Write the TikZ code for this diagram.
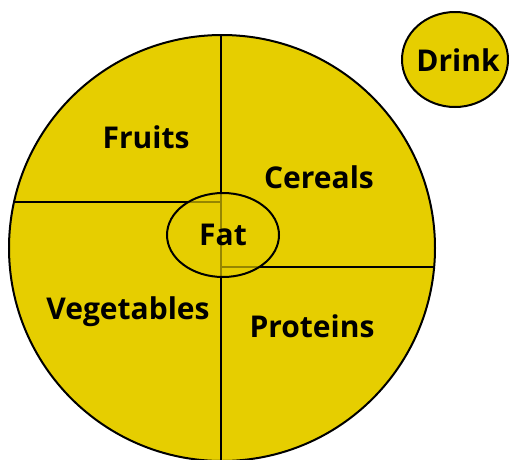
\documentclass[tikz,border=0pt]{standalone}
\usepackage{fontspec}
\setmainfont{Open Sans}
\usepackage{xcolor}
\definecolor{plateyellow}{RGB}{230,206,0}

\tikzset{
  food/.style={font=\fontsize{30}{34}\selectfont\bfseries, inner sep=0pt},
  rim/.style={line width=2pt, color=black}
}

\begin{document}
\begin{tikzpicture}[x=1pt, y=-1pt]
\useasboundingbox (0,0) rectangle (509,459);
\clip (0,0) rectangle (509,459);

\coordinate (plate) at (222,248);

% plate
\fill[plateyellow] (plate) circle (213);
\begin{scope}
  \clip (plate) circle (213);
  \draw[rim] (220.7,0) -- (220.7,470);
  \draw[rim] (0,201.7) -- (220.7,201.7);
  \draw[rim] (220.7,267) -- (450,267);
\end{scope}
\draw[rim] (plate) circle (213);

% fat in the middle
\coordinate (fat) at (223,235);
\fill[plateyellow, fill opacity=0.65] (fat) ellipse (56 and 42);
\draw[rim] (fat) ellipse (56 and 42);

% drink
\coordinate (drink) at (455,59.5);
\draw[rim, fill=plateyellow] (drink) ellipse (53 and 47.5);

\node[food] (fruits) at (146,137) {Fruits};
\node[food] (cereals) at (319,177) {Cereals};
\node[food] (vegetables) at (128,312) {Vegetables};
\node[food] (proteins) at (312,326) {Proteins};
\node[food] (fatlabel) at (fat) {Fat};
\node[food] (drinklabel) at (458,60) {Drink};
\end{tikzpicture}
\end{document}
